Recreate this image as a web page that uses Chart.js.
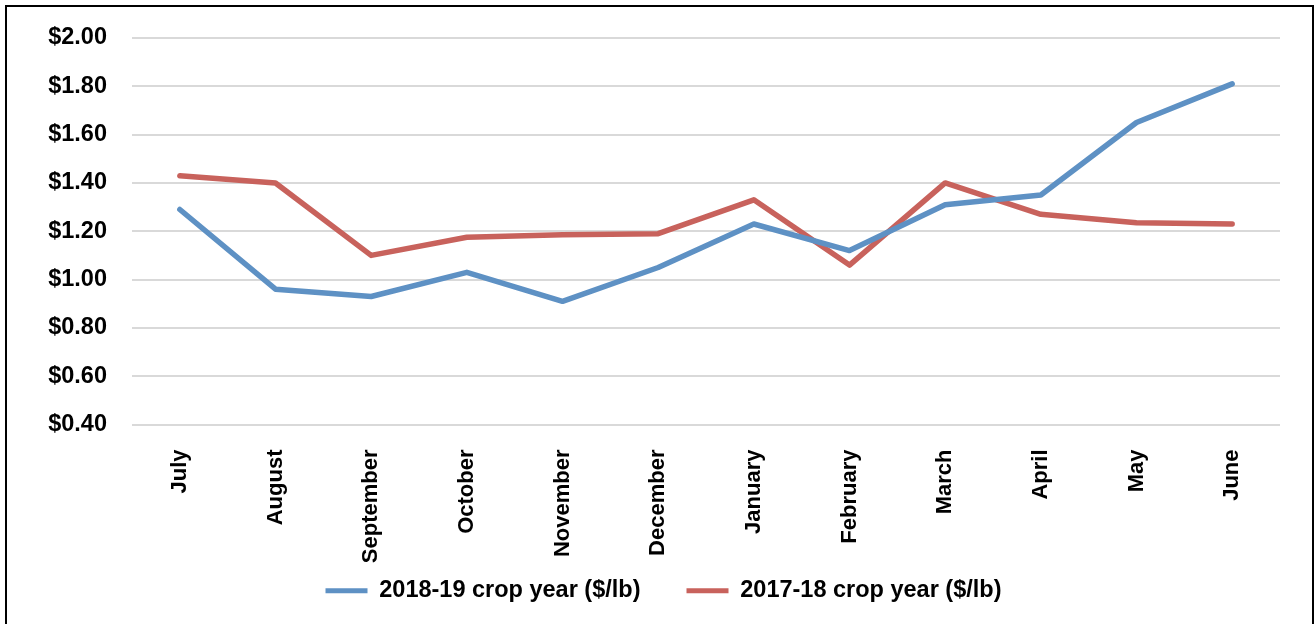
<!DOCTYPE html>
<html>
<head>
<meta charset="utf-8">
<script src="https://cdn.jsdelivr.net/npm/chart.js@4/dist/chart.umd.min.js"></script>
<style>
  html, body { margin: 0; padding: 0; background: #fff; overflow: hidden; }
  #frame {
    position: absolute; left: 5px; top: 5px;
    width: 1305px; height: 640px;
    border: 2px solid #000; background: #fff;
  }
  #wrap { position: absolute; left: 0; top: 0; width: 1305px; height: 617px; }
</style>
</head>
<body>
<div id="frame"><div id="wrap"><canvas id="chart"></canvas></div></div>
<script>
// Monthly prices, crop year running July to June
const months = ['July', 'August', 'September', 'October', 'November', 'December',
                'January', 'February', 'March', 'April', 'May', 'June'];
const crop2018_19 = [1.29, 0.96, 0.93, 1.03, 0.91, 1.05, 1.23, 1.12, 1.31, 1.35, 1.65, 1.81];
const crop2017_18 = [1.43, 1.40, 1.10, 1.175, 1.185, 1.19, 1.33, 1.06, 1.40, 1.27, 1.235, 1.23];
const seriesNames = ['2018-19 crop year ($/lb)', '2017-18 crop year ($/lb)'];
const yMin = 0.40, yMax = 2.00, yStep = 0.20;

const BLUE = '#5E91C4';
const RED = '#C8625C';
const FONT = "'Liberation Sans', Arial, sans-serif";

new Chart(document.getElementById('chart'), {
  type: 'line',
  data: {
    labels: months,
    datasets: [
      { label: seriesNames[0], data: crop2018_19, borderColor: BLUE, backgroundColor: BLUE },
      { label: seriesNames[1], data: crop2017_18, borderColor: RED, backgroundColor: RED }
    ]
  },
  options: {
    responsive: true,
    maintainAspectRatio: false,
    animation: false,
    layout: { padding: { left: 40, right: 32, top: 31, bottom: 11.5 } },
    elements: {
      line: { borderWidth: 5.5, tension: 0, borderCapStyle: 'round', borderJoinStyle: 'round' },
      point: { radius: 0, hoverRadius: 0 }
    },
    plugins: {
      tooltip: { enabled: false },
      legend: {
        position: 'bottom',
        labels: {
          color: '#000',
          font: { family: FONT, size: 23.5, weight: 'bold' },
          boxWidth: 42,
          boxHeight: 5,
          padding: 46,
          useBorderRadius: true,
          borderRadius: 2.5,
          generateLabels(chart) {
            return chart.data.datasets.map((ds, i) => ({
              text: ds.label,
              fillStyle: ds.borderColor,
              strokeStyle: ds.borderColor,
              lineWidth: 0,
              fontColor: '#000',
              datasetIndex: i,
              hidden: false
            }));
          }
        }
      }
    },
    scales: {
      x: {
        offset: true,
        grid: { display: false, drawTicks: false },
        border: { display: false },
        ticks: {
          color: '#000',
          font: { family: FONT, size: 22, weight: 'bold' },
          minRotation: 90,
          maxRotation: 90,
          padding: 25,
          autoSkip: false
        },
        afterFit(scale) {
          scale.height = 108.5;
          // month names run below the axis box, down towards the legend
          scale._computeLabelArea = () => undefined;
        }
      },
      y: {
        min: yMin,
        max: yMax,
        grid: { color: '#D9D9D9', lineWidth: 2, drawTicks: false },
        border: { display: false },
        ticks: {
          stepSize: yStep,
          color: '#000',
          font: { family: FONT, size: 23.5, weight: 'bold' },
          padding: 25,
          callback: v => '$' + Number(v).toFixed(2)
        },
        afterFit(scale) {
          scale.width = 85;
          scale.paddingTop = 0;
          scale.paddingBottom = 0;
        }
      }
    }
  }
});
</script>
</body>
</html>
